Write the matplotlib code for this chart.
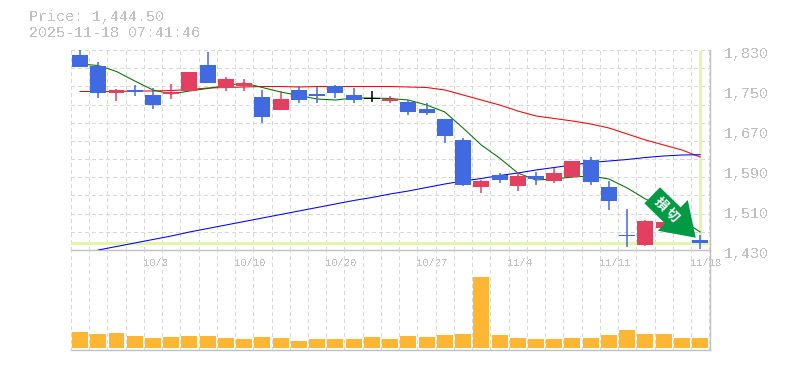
#!/usr/bin/env python3
# -*- coding: utf-8 -*-
"""Daily candles with moving averages and volume below."""
import numpy as np
import matplotlib
matplotlib.use("Agg")
import matplotlib.pyplot as plt
from matplotlib.patches import FancyArrow
from matplotlib.transforms import ScaledTranslation

# candles
opens = [1820, 1798, 1745, 1750, 1740, 1742, 1749, 1800, 1755, 1758, 1736, 1710,
         1750, 1742, 1758, 1740, 1735, 1728, 1726, 1712, 1692, 1650, 1556, 1580,
         1558, 1578, 1568, 1576, 1610, 1556, 1461, 1440, 1475, 1490, 1450]
closes = [1796, 1745, 1751, 1747, 1721, 1746, 1786, 1765, 1772, 1764, 1696, 1732,
          1730, 1738, 1744, 1730, 1732, 1732, 1706, 1704, 1658, 1560, 1568, 1570,
          1578, 1572, 1584, 1608, 1566, 1528, 1459, 1488, 1486, 1470, 1444.5]
highs = [1830, 1806, 1752, 1760, 1755, 1762, 1786, 1826, 1776, 1772, 1750, 1748,
         1758, 1756, 1760, 1754, 1748, 1738, 1730, 1724, 1692, 1655, 1570, 1584,
         1586, 1586, 1594, 1608, 1616, 1568, 1512, 1490, 1486, 1490, 1460]
lows = [1796, 1735, 1729, 1739, 1713, 1733, 1749, 1765, 1748, 1749, 1684, 1710,
        1724, 1724, 1734, 1724, 1726, 1724, 1700, 1700, 1644, 1558, 1544, 1564,
        1549, 1561, 1564, 1574, 1560, 1510, 1436, 1438, 1475, 1470, 1432]

# moving averages
ma_short = [1802, 1799, 1787, 1768, 1750, 1742, 1748, 1753, 1759, 1764, 1755, 1746,
            1739, 1732, 1730, 1734, 1734, 1733, 1730, 1720, 1706, 1674, 1640, 1614,
            1584, 1570, 1572, 1576, 1578, 1572, 1554, 1532, 1514, 1490, 1466]
ma_mid = [1747, 1747, 1747, 1748, 1748, 1749, 1751, 1754, 1755, 1756, 1757, 1757,
          1756, 1757, 1757, 1757, 1757, 1757, 1756, 1755, 1750, 1740, 1730, 1720,
          1708, 1698, 1693, 1688, 1682, 1674, 1662, 1650, 1640, 1630, 1616]
ma_long = [np.nan, 1430, 1437, 1444, 1451, 1458, 1466, 1473, 1480, 1487, 1494, 1501,
           1508, 1515, 1522, 1529, 1535, 1542, 1548, 1555, 1562, 1568, 1573, 1579,
           1584, 1590, 1595, 1600, 1605, 1608, 1611, 1615, 1618, 1620, 1620.6]

volumes = [16, 14, 15, 12, 10, 11, 12, 12, 10, 9, 11, 10, 7, 9, 9, 9, 11, 9,
           12, 11, 13, 14, 71, 13, 10, 9, 9, 10, 10, 13, 18, 14, 14, 10, 10]

date_pos = [4, 9, 14, 19, 24, 29, 34]
date_labels = ["10/3", "10/10", "10/20", "10/27", "11/4", "11/11", "11/18"]
price_ticks = [1830, 1750, 1670, 1590, 1510, 1430]
price_labels = ["1,830", "1,750", "1,670", "1,590", "1,510", "1,430"]
last_price = 1444.5

W, H = 785, 370
BLUE = "#4169E1"
RED = "#E34060"
GRID = "#D8D8D8"
AXIS = "#C0C0C0"
LIME = "#E2F5A8"
MONO = "Liberation Mono"

plt.rcParams["text.antialiased"] = False
plt.rcParams["font.family"] = [MONO, "DejaVu Sans"]

fig = plt.figure(figsize=(W / 100, H / 100), dpi=100)


def make_axes(top, bottom):
    left, right = 70.9, 710
    return fig.add_axes([left / W, 1 - bottom / H, (right - left) / W, (bottom - top) / H])


ax = make_axes(50, 250)
ax_vol = make_axes(250, 350)
x = np.arange(len(opens))
grid_x = np.arange(len(opens) + 1) - 0.5

for a in (ax, ax_vol):
    a.set_xlim(-0.5, 34.54)
    a.patch.set_alpha(0)
    for side in ("left", "top"):
        a.spines[side].set_visible(False)
    for side in ("right", "bottom"):
        a.spines[side].set_color(AXIS)
        a.spines[side].set_linewidth(1.0)
    a.vlines(grid_x, 0, 1, transform=a.get_xaxis_transform(), color=GRID, lw=0.72,
             linestyles=(0, (3, 3)), zorder=1, antialiased=False)

# price panel
ax.set_ylim(1430, 1830)
ax.hlines(np.linspace(1430, 1830, 12)[1:], -0.5, 34.54, color=GRID, lw=0.72,
          linestyles=(0, (3, 3)), zorder=1, antialiased=False)
ax.axhline(last_price, color=LIME, lw=2.2, zorder=2)
ax.plot([34, 34], [last_price, 1830], color=LIME, lw=2.2, zorder=2, solid_capstyle="butt")
ax.plot(x, ma_mid, color="#FF0000", lw=0.75, zorder=3)
ax.plot(x, ma_short, color="#007000", lw=0.75, zorder=3)
ax.plot(x, ma_long, color="#0000FF", lw=0.75, zorder=3)

colors = []
for o, c in zip(opens, closes):
    colors.append(RED if c > o else BLUE)
colors[16] = "#000000"
bottoms = np.minimum(opens, closes)
heights = np.abs(np.array(opens) - np.array(closes))
ax.vlines(x, lows, highs, colors=colors, lw=1.1, zorder=4)
ax.bar(x, heights, 0.877, bottom=bottoms, color=colors, lw=0, zorder=4)

ax.yaxis.tick_right()
ax.set_yticks(price_ticks, price_labels, color=AXIS, fontsize=10.8)
ax.tick_params(axis="y", length=0, pad=10)
shift = ScaledTranslation(0, -2.6 / 100, fig.dpi_scale_trans)
for label in ax.get_yticklabels():
    label.set_transform(label.get_transform() + shift)
    label.set_clip_on(False)

ax.set_xticks(np.array(date_pos) - 0.55, date_labels, color=AXIS, fontsize=7.6, ha="left")
ax.tick_params(axis="x", length=0, pad=6)

# volume panel
ax_vol.set_ylim(-2, 98)
ax_vol.bar(x, volumes, 0.877, color="#FFB733", lw=0, zorder=3)
ax_vol.set_xticks([])
ax_vol.set_yticks([])

# header and the arrow mark, placed in picture pixels
over = fig.add_axes([0, 0, 1, 1], zorder=5)
over.set_xlim(0, W)
over.set_ylim(H, 0)
over.axis("off")
over.text(29, 17, "Price: 1,444.50", color=AXIS, fontsize=10.8, va="center")
over.text(29, 33, "2025-11-18 07:41:46", color=AXIS, fontsize=10.8, va="center")
over.add_patch(FancyArrow(652.2, 195.3, 43.5, 42.4, width=22.4, head_width=42.9,
                          head_length=32, length_includes_head=True,
                          color="#009944", lw=0))
for cx, cy, ch in [(660.7, 203.7, "損"), (671.7, 215.3, "切")]:
    over.text(cx, cy, ch, color="white", fontsize=9.5, fontweight="bold",
              rotation=-45, rotation_mode="anchor", ha="center", va="center",
              family=["Noto Sans CJK JP", "DejaVu Sans"], antialiased=True)

fig.savefig("out.png", dpi=100)
